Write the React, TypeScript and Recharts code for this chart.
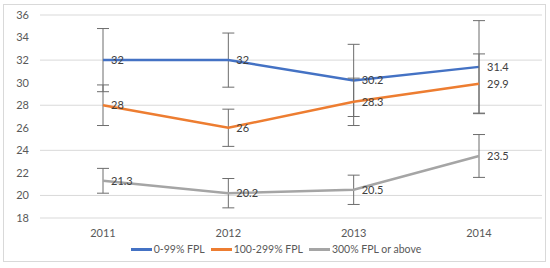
import { LineChart, Line, XAxis, YAxis, CartesianGrid, ErrorBar, LabelList, Legend } from 'recharts';

// years on the x axis
const years = ['2011', '2012', '2013', '2014'];

// three income groups, value + half-width of the error bar
const lowFpl = [32, 32, 30.2, 31.4];
const lowFplErr = [2.8, 2.4, 3.2, 4.1];
const midFpl = [28, 26, 28.3, 29.9];
const midFplErr = [1.8, 1.65, 2.1, 2.65];
const highFpl = [21.3, 20.2, 20.5, 23.5];
const highFplErr = [1.1, 1.3, 1.3, 1.9];

const yTicks = [18, 20, 22, 24, 26, 28, 30, 32, 34, 36];

const seriesMeta = [
  { key: 'low', err: 'lowErr', name: '0-99% FPL', color: '#4472C4' },
  { key: 'mid', err: 'midErr', name: '100-299% FPL', color: '#ED7D31' },
  { key: 'high', err: 'highErr', name: '300% FPL or above', color: '#A5A5A5' },
];

const data = years.map((year, i) => ({
  year,
  low: lowFpl[i],
  lowErr: lowFplErr[i],
  mid: midFpl[i],
  midErr: midFplErr[i],
  high: highFpl[i],
  highErr: highFplErr[i],
}));

const FONT = 'Lato, "Noto Sans", sans-serif';
const TEXT = '#595959';

function LegendRow() {
  return (
    <div
      style={{
        display: 'flex',
        justifyContent: 'center',
        gap: 6,
        paddingTop: 4,
        paddingLeft: 10,
        fontFamily: FONT,
        fontSize: 10.5,
        lineHeight: '14px',
        color: TEXT,
      }}
    >
      {seriesMeta.map((s) => (
        <div key={s.key} style={{ display: 'flex', alignItems: 'center', gap: 2 }}>
          <span style={{ display: 'inline-block', width: 21, height: 3, background: s.color }} />
          <span>{s.name}</span>
        </div>
      ))}
    </div>
  );
}

export default function App() {
  return (
    <div style={{ position: 'absolute', left: 0, top: 0, width: 550, height: 268, background: '#fff' }}>
      <div
        style={{
          position: 'absolute',
          left: 3,
          top: 4,
          width: 543,
          height: 258,
          border: '1px solid #d9d9d9',
          boxSizing: 'border-box',
        }}
      />
      <LineChart width={550} height={268} data={data} margin={{ top: 15, right: 8, bottom: 10, left: 0 }}>
        <CartesianGrid stroke="#d9d9d9" vertical={false} />
        <XAxis
          dataKey="year"
          padding={{ left: 63, right: 63 }}
          axisLine={false}
          tickLine={false}
          tickSize={0}
          tickMargin={11}
          height={20}
          tick={{ fontSize: 11, fill: TEXT, fontFamily: FONT }}
        />
        <YAxis
          domain={[18, 36]}
          ticks={yTicks}
          axisLine={false}
          tickLine={false}
          tickSize={0}
          tickMargin={11}
          width={40}
          tick={{ fontSize: 11, fill: TEXT, fontFamily: FONT }}
        />
        <Legend verticalAlign="bottom" height={20} content={() => <LegendRow />} />
        {seriesMeta.map((s) => (
          <Line
            key={s.key}
            type="linear"
            dataKey={s.key}
            name={s.name}
            stroke={s.color}
            strokeWidth={2.5}
            dot={false}
            isAnimationActive={false}
          >
            <ErrorBar dataKey={s.err} width={6} stroke="#6d6d6d" strokeWidth={1} direction="y" />
            <LabelList dataKey={s.key} position="right" offset={8} fill="#404040" fontSize={11} fontFamily={FONT} />
          </Line>
        ))}
      </LineChart>
    </div>
  );
}
